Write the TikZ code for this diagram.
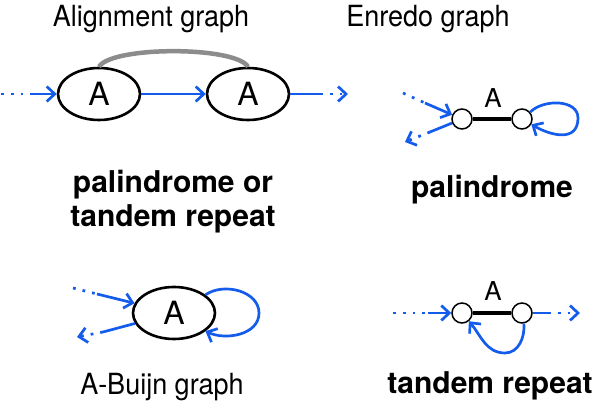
\documentclass[tikz,border=0pt]{standalone}
\usepackage{fontspec}
\setmainfont{TeX Gyre Heros}
\usetikzlibrary{arrows.meta,shapes.geometric}
\definecolor{bl}{RGB}{20,92,235}
\definecolor{arcgray}{RGB}{140,140,140}
\tikzset{
  ell/.style={ellipse,draw,line width=2.6pt,minimum width=82pt,minimum height=52pt,inner sep=0pt,font=\fontsize{32}{36}\selectfont},
  vtx/.style={circle,draw,line width=1.5pt,fill=white,minimum size=20pt,inner sep=0pt},
  bline/.style={draw=bl,line width=2.7pt},
  arr/.style={-{Straight Barb[length=8pt,width=15pt]}},
  dotline/.style={dash pattern=on 2.8pt off 7pt},
  title/.style={anchor=base,font=\fontsize{27}{32}\selectfont},
  bold/.style={anchor=base,font=\fontsize{30}{33}\selectfont\bfseries},
  lbl/.style={font=\fontsize{26}{30}\selectfont},
}
\begin{document}
\begin{tikzpicture}[x=1pt,y=1pt]
\useasboundingbox (0,0) rectangle (600,-403);
% titles
\node[title] (t1) at (151,-27) {\scalebox{1}[1.08]{Alignment graph}};
\node[title] (t2) at (428,-27) {\scalebox{1}[1.08]{Enredo graph}};
\node[title] (t3) at (162,-395) {\scalebox{1}[1.08]{A-Buijn graph}};
\node[bold] (p1) at (173,-193) {palindrome or};
\node[bold] (p2) at (173,-227) {tandem repeat};
\node[bold] (p3) at (492,-198) {palindrome};
\node[bold] (p4) at (490,-393) {tandem repeat};
% alignment graph
\node[ell] (a1) at (99,-94) {A};
\node[ell] (a2) at (248,-94) {A};
\draw[arcgray,line width=4.5pt] (a1.north) .. controls (112,-46) and (235,-46) .. (a2.north);
\coordinate (l0) at (1,-94);
\coordinate (l1) at (30,-94);
\draw[bline,dotline] (l0) -- (l1);
\draw[bline,arr] (l1) -- (a1);
\draw[bline,arr] (a1) -- (a2);
\coordinate (r1) at (320,-94);
\coordinate (r2) at (348,-94);
\draw[bline] (a2) -- (r1);
\draw[bline,dotline,arr] (r1) -- (r2);
% enredo top
\node[vtx] (e1) at (462,-119) {};
\node[vtx] (e2) at (522,-119) {};
\draw[line width=4.5pt] (e1) -- (e2);
\node[lbl] (eA) at (493,-98) {A};
\coordinate (ei0) at (403,-93);
\coordinate (ei1) at (425,-103);
\draw[bline,dotline] (ei0) -- (ei1);
\draw[bline,arr] (ei1) -- (e1);
\coordinate (eo1) at (430,-132);
\coordinate (eo2) at (405,-142);
\draw[bline] (e1) -- (eo1);
\draw[bline,dotline,arr] (eo1) -- (eo2);
\coordinate (eL) at (578,-118);
\draw[bline,arr] (e2.40) to[out=45,in=90] (eL) to[out=-90,in=-30,looseness=1.3] (e2.-30);
% A-Buijn
\node[ell] (b) at (174,-313) {A};
\coordinate (bi0) at (73,-288);
\coordinate (bi1) at (97,-294);
\draw[bline,dotline] (bi0) -- (bi1);
\draw[bline,arr] (bi1) -- (b);
\coordinate (bo1) at (103,-332);
\coordinate (bo2) at (77,-337);
\draw[bline] (b) -- (bo1);
\draw[bline,dotline,arr] (bo1) -- (bo2);
\coordinate (bL) at (259,-313);
\draw[bline,arr] (b.30) to[out=35,in=90] (bL) to[out=-90,in=-25] (b.-30);
% enredo bottom
\node[vtx] (f1) at (462,-313) {};
\node[vtx] (f2) at (522,-313) {};
\draw[line width=4.5pt] (f1) -- (f2);
\node[lbl] (fA) at (493,-291) {A};
\coordinate (fi0) at (393,-313);
\coordinate (fi1) at (428,-313);
\draw[bline,dotline] (fi0) -- (fi1);
\draw[bline,arr] (fi1) -- (f1);
\coordinate (fo1) at (548,-313);
\coordinate (fo2) at (580,-313);
\draw[bline] (f2) -- (fo1);
\draw[bline,dotline,arr] (fo1) -- (fo2);
\coordinate (fL) at (505,-353);
\draw[bline,arr] (f2.-80) to[out=-85,in=0] (fL) to[out=180,in=-50] (f1.-50);
\end{tikzpicture}
\end{document}
